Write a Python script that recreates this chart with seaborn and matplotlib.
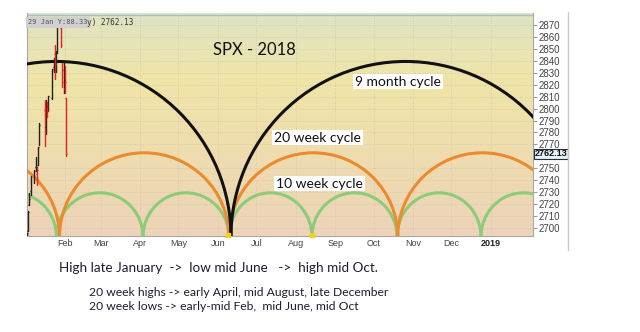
import matplotlib
matplotlib.use("Agg")
import matplotlib.pyplot as plt
import seaborn as sns
import numpy as np
import pandas as pd
from matplotlib.patches import Arc
from matplotlib.lines import Line2D
from matplotlib.colors import LinearSegmentedColormap

# ---------------- data ----------------
month_ticks = [31, 59, 90, 120, 151, 181, 212, 243, 273, 304, 334, 365]
month_labels = ["Feb", "Mar", "Apr", "May", "Jun", "Jul", "Aug", "Sep", "Oct", "Nov", "Dec", "2019"]
price_ticks = [2700, 2710, 2720, 2730, 2740, 2750, 2770, 2780, 2790, 2800,
               2810, 2820, 2830, 2840, 2850, 2860, 2870]

bar_days = [1, 2, 3, 4, 7, 8, 9, 10, 11, 15, 16, 17, 18, 21, 22, 23, 24, 25, 28, 29, 30, 31, 32]
bar_open = [2683.7, 2697.9, 2719.3, 2731.3, 2742.7, 2751.2, 2745.6, 2753.0, 2770.2, 2799.0, 2785.0,
            2802.4, 2802.6, 2809.2, 2835.1, 2845.4, 2846.2, 2847.5, 2867.2, 2832.7, 2832.4, 2816.5, 2808.9]
bar_high = [2695.9, 2714.4, 2729.3, 2743.5, 2748.5, 2759.1, 2750.8, 2767.6, 2787.9, 2807.5, 2807.0,
            2805.8, 2810.3, 2833.0, 2842.2, 2853.0, 2848.6, 2872.9, 2870.6, 2837.8, 2839.3, 2836.0, 2808.9]
bar_low = [2682.4, 2697.8, 2719.1, 2727.9, 2737.6, 2747.9, 2736.1, 2752.8, 2769.6, 2768.6, 2778.4,
           2792.6, 2798.1, 2808.1, 2830.6, 2824.8, 2830.9, 2846.2, 2851.5, 2818.3, 2813.0, 2812.7, 2760.0]
bar_close = [2695.8, 2713.1, 2724.0, 2743.2, 2747.7, 2751.3, 2748.2, 2767.6, 2786.2, 2776.4, 2802.6,
             2798.0, 2810.3, 2833.0, 2839.1, 2837.5, 2839.3, 2872.9, 2853.5, 2822.4, 2823.8, 2822.0, 2762.1]
last_close = 2762.13

cycle_base = 2692.5
nine_month_lows = [161.2]
nine_month_period = 274.0
nine_month_peak = 2839.5
twenty_week_lows = [26.7, 159.6, 292.0]
twenty_week_period = 132.6
twenty_week_peak = 2763.0
ten_week_lows = [24.3, 92.2, 159.6, 224.7, 291.4, 357.3]
ten_week_period = 66.6
ten_week_peak = 2729.5
marker_days = [158.5, 224.7]

x_min, x_max = 1.2, 398.1
y_min, y_max = 2693.3, 2880.1

# ---------------- style ----------------
sns.set_style("white")
plt.rcParams["font.family"] = ["Liberation Sans", "DejaVu Sans"]

fig = plt.figure(figsize=(6.4, 3.32), dpi=100)
ax = fig.add_axes([27 / 640, 1 - 236 / 332, (533 - 27) / 640, (236 - 13) / 332])

# background gradient
cmap = LinearSegmentedColormap.from_list(
    "bg", [(0.0, "#edd3b8"), (0.35, "#efdcaf"), (0.7, "#f0e5a8"), (1.0, "#dfe3c4")])
grad = np.linspace(0, 1, 256).reshape(-1, 1)
ax.imshow(grad, extent=[x_min, x_max, y_min, y_max], origin="lower",
          aspect="auto", cmap=cmap, zorder=0)

ax.set_xlim(x_min, x_max)
ax.set_ylim(y_min, y_max)

# grid
ax.set_axisbelow(True)
ax.set_xticks(month_ticks)
ax.set_xticklabels(month_labels)
ax.set_yticks(price_ticks)
ax.grid(True, color="#c9c6ad", linestyle=(0, (1, 2)), linewidth=0.6)
ax.axhline(2878.5, color="#a9bcc6", lw=1.0, zorder=1)

# cycle arcs
def draw_cycle(lows, period, peak, color, lw, z):
    bounds = [lows[0] - period] + list(lows) + [lows[-1] + period]
    for a, b in zip(bounds[:-1], bounds[1:]):
        ax.add_patch(Arc(((a + b) / 2, cycle_base), b - a, 2 * (peak - cycle_base),
                         theta1=0, theta2=180, color=color, lw=lw, zorder=z))

draw_cycle(ten_week_lows, ten_week_period, ten_week_peak, "#8ccc78", 2.2, 3)
draw_cycle(twenty_week_lows, twenty_week_period, twenty_week_peak, "#ec8a2e", 2.2, 4)
draw_cycle(nine_month_lows, nine_month_period, nine_month_peak, "#111111", 2.2, 5)

ax.scatter(marker_days, [y_min + 0.8] * len(marker_days), marker="s", s=10,
           color="#f3d11a", zorder=6, clip_on=False)

# price bars (OHLC)
dirs = ["up"] + ["down" if c < p else "up" for p, c in zip(bar_close[:-1], bar_close[1:])]
bars = pd.DataFrame({"day": bar_days * 2, "price": bar_low + bar_high, "dir": dirs * 2})
sns.lineplot(data=bars, x="day", y="price", hue="dir", units="day", estimator=None,
             palette={"up": "#222222", "down": "#e8231c"}, lw=1.0, legend=False,
             sort=False, ax=ax, zorder=7)
cols = ["#222222" if d == "up" else "#e8231c" for d in dirs]
ax.hlines(bar_open, np.array(bar_days) - 0.7, bar_days, colors=cols, lw=1.0, zorder=7)
ax.hlines(bar_close, bar_days, np.array(bar_days) + 0.7, colors=cols, lw=1.0, zorder=7)
ax.set_xlabel("")
ax.set_ylabel("")

# axes styling
ax.yaxis.tick_right()
for s in ax.spines.values():
    s.set_color("#a8a8a8")
    s.set_linewidth(0.8)
ax.spines["top"].set_visible(False)
ax.tick_params(axis="y", which="both", right=True, length=3, width=0.6, color="#888888",
               labelsize=7, labelcolor="#444444", pad=1)
ax.tick_params(axis="x", which="both", bottom=False, length=0, labelsize=6.5,
               labelcolor="#444444", pad=2.5)
for lbl in ax.get_xticklabels():
    if lbl.get_text() == "2019":
        lbl.set_fontweight("bold")
        lbl.set_color("#222222")

# last price box on right axis
ax.text(1.004, (last_close - y_min) / (y_max - y_min), f"{last_close:.2f}",
        transform=ax.transAxes, ha="left", va="center", fontsize=6.5, color="#111111",
        fontweight="bold",
        bbox=dict(boxstyle="square,pad=0.08", fc="#e6f2f6", ec="#203040", lw=0.8), zorder=10,
        clip_on=False)

# annotations
ann_font = ["Lato", "DejaVu Sans"]
ax.text(147, 2848.7, "SPX - 2018", fontsize=12, family=ann_font, color="#111111",
        ha="left", va="center", zorder=9)
for x, y, t in [(258.5, 2822.7, "9 month cycle"), (195.0, 2775.6, "20 week cycle"),
                (196.5, 2737.0, "10 week cycle")]:
    ax.text(x, y, t, fontsize=10, family=ann_font, color="#111111", ha="left", va="center",
            zorder=9, bbox=dict(boxstyle="square,pad=0.12", fc="white", ec="none"))

# top-left data box
fig.text(28.5 / 640, 1 - 22.5 / 332, "29 Jan Y:88.33", fontsize=5.0, family="DejaVu Sans Mono",
         color="#555555", ha="left", va="center",
         bbox=dict(boxstyle="square,pad=0.3", fc="#d0d0d0", ec="none"), zorder=12)
fig.text(87 / 640, 1 - 22.5 / 332, "y) 2762.13", fontsize=5.6, family="DejaVu Sans Mono",
         color="#333333", ha="left", va="center", zorder=12)

# vertical separator line
fig.add_artist(Line2D([567.5 / 640, 567.5 / 640], [1 - 12 / 332, 1 - 250 / 332],
                      color="#c8c8c8", lw=1.0))

# commentary text
fig.text(59 / 640, 1 - 268 / 332, "High late January  ->  low mid June   ->  high mid Oct.",
         fontsize=9.7, family=ann_font, color="#1c1c30", ha="left", va="center")
fig.text(89 / 640, 1 - 292 / 332, "20 week highs -> early April, mid August, late December",
         fontsize=8.7, family=ann_font, color="#1c1c30", ha="left", va="center")
fig.text(89 / 640, 1 - 307 / 332, "20 week lows -> early-mid Feb,  mid June, mid Oct",
         fontsize=8.7, family=ann_font, color="#1c1c30", ha="left", va="center")

fig.savefig("out.png", dpi=100, facecolor="white")
